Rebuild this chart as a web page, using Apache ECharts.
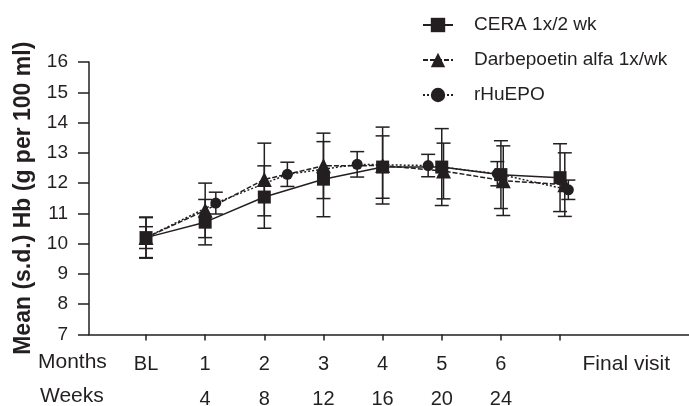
<!DOCTYPE html>
<html>
<head>
<meta charset="utf-8">
<title>Hb over time</title>
<script src="https://cdn.jsdelivr.net/npm/echarts@6/dist/echarts.min.js"></script>
<style>
  html, body { margin: 0; padding: 0; background: #fff; }
  #chart { width: 689px; height: 406px; }
</style>
</head>
<body>
<div id="chart"></div>
<script>
// 颜色
var ink = '#231f20';

// x轴刻度 (BL=0, 月1..6, 终末访视=7)
var tickValues = [0, 1, 2, 3, 4, 5, 6, 7];
var labelValues = [0, 1, 2, 3, 4, 5, 6, 8.12];
var monthLabels = ['BL', '1', '2', '3', '4', '5', '6', 'Final visit'];
var weekLabels = ['', '4', '8', '12', '16', '20', '24', ''];

// CERA 1x/2 wk
var ceraX = [0, 1, 2, 3, 4, 5, 6, 7];
var ceraMean = [10.2, 10.71, 11.54, 12.13, 12.53, 12.53, 12.28, 12.18];
var ceraSD = [0.68, 0.75, 1.03, 1.24, 1.03, 1.27, 1.12, 1.12];

// Darbepoetin alfa 1x/wk
var darbeX = [0, 1, 2, 3, 4, 5.03, 6.04, 7.08];
var darbeMean = [10.2, 11.1, 12.12, 12.57, 12.58, 12.4, 12.08, 11.95];
var darbeSD = [0.66, 0.9, 1.2, 1.08, 1.27, 0.92, 1.15, 1.05];

// rHuEPO
var epoX = [0, 1.18, 2.39, 3.57, 4.77, 5.94, 7.14];
var epoMean = [10.2, 11.34, 12.29, 12.62, 12.58, 12.31, 11.78];
var epoSD = [0.36, 0.36, 0.4, 0.42, 0.37, 0.4, 0.32];

function pairs(xs, ys) {
    var out = [];
    for (var i = 0; i < xs.length; i++) out.push([xs[i], ys[i]]);
    return out;
}

function bars(xs, ys, sd) {
    var out = [];
    for (var i = 0; i < xs.length; i++) out.push([xs[i], ys[i] - sd[i], ys[i] + sd[i]]);
    return out;
}

// 误差线
function errorBar(name, data) {
    return {
        name: name + ' sd',
        type: 'custom',
        silent: true,
        data: data,
        encode: { x: 0, y: [1, 2] },
        z: 1,
        renderItem: function(params, api) {
            var x = api.value(0);
            var top = api.coord([x, api.value(2)]);
            var bot = api.coord([x, api.value(1)]);
            var hw = 7;
            var st = { stroke: ink, lineWidth: 1.5 };
            return {
                type: 'group',
                children: [
                    { type: 'line', shape: { x1: top[0], y1: top[1], x2: bot[0], y2: bot[1] }, style: st },
                    { type: 'line', shape: { x1: top[0] - hw, y1: top[1], x2: top[0] + hw, y2: top[1] }, style: st },
                    { type: 'line', shape: { x1: bot[0] - hw, y1: bot[1], x2: bot[0] + hw, y2: bot[1] }, style: st }
                ]
            };
        }
    };
}

function lineSeries(name, data, symbol, size, dash) {
    return {
        name: name,
        type: 'line',
        data: data,
        symbol: symbol,
        symbolSize: size,
        z: 3,
        itemStyle: { color: ink },
        lineStyle: { color: ink, width: 1.5, type: dash },
        emphasis: { disabled: true }
    };
}

var myChart = echarts.init(document.getElementById('chart'));

var option = {
    animation: false,
    backgroundColor: '#fff',
    textStyle: { fontFamily: 'Liberation Sans, Arial, sans-serif', color: ink },
    grid: { left: 89, right: 0, top: 62, bottom: 71.5, containLabel: false, outerBoundsMode: 'none' },
    legend: {
        orient: 'vertical',
        left: 422,
        top: 15,
        padding: 0,
        itemWidth: 30,
        itemHeight: 18,
        itemGap: 15,
        data: ['CERA 1x/2 wk', 'Darbepoetin alfa 1x/wk', 'rHuEPO'],
        textStyle: { fontSize: 19, color: ink, lineHeight: 20, padding: [0, 0, 0, 16] }
    },
    xAxis: {
        type: 'value',
        min: -0.964,
        max: 9.18,
        splitLine: { show: false },
        axisLine: { onZero: false, lineStyle: { color: ink, width: 1.5 } },
        axisTick: { show: true, length: 6, customValues: tickValues, lineStyle: { color: ink, width: 1.5 } },
        axisLabel: {
            customValues: labelValues,
            margin: 12,
            color: ink,
            formatter: function(v) {
                var i = labelValues.indexOf(v);
                if (i < 0) return '';
                if (i === labelValues.length - 1) return '{f|' + monthLabels[i] + '}\n{w| }';
                return '{m|' + monthLabels[i] + '}\n{w|' + (weekLabels[i] || ' ') + '}';
            },
            rich: {
                m: { fontSize: 20, lineHeight: 35, color: ink },
                f: { fontSize: 21, lineHeight: 35, color: ink },
                w: { fontSize: 20, lineHeight: 35, color: ink }
            }
        }
    },
    yAxis: {
        type: 'value',
        min: 7,
        max: 16,
        interval: 1,
        name: 'Mean (s.d.) Hb (g per 100 ml)',
        nameLocation: 'middle',
        nameGap: 54,
        nameTextStyle: { fontSize: 23, fontWeight: 'bold', color: ink },
        splitLine: { show: false },
        axisLine: { show: true, onZero: false, lineStyle: { color: ink, width: 1.5 } },
        axisTick: { show: true, length: 11, lineStyle: { color: ink, width: 1.5 } },
        axisLabel: { fontSize: 19, color: ink, margin: 21 }
    },
    graphic: [
        { type: 'text', left: 38, top: 352, style: { text: 'Months', fontSize: 21, fill: ink, fontFamily: 'Liberation Sans, Arial, sans-serif' } },
        { type: 'text', left: 40, top: 386, style: { text: 'Weeks', fontSize: 21, fill: ink, fontFamily: 'Liberation Sans, Arial, sans-serif' } }
    ],
    series: [
        errorBar('CERA 1x/2 wk', bars(ceraX, ceraMean, ceraSD)),
        errorBar('Darbepoetin alfa 1x/wk', bars(darbeX, darbeMean, darbeSD)),
        errorBar('rHuEPO', bars(epoX, epoMean, epoSD)),
        lineSeries('CERA 1x/2 wk', pairs(ceraX, ceraMean), 'rect', 13, 'solid'),
        lineSeries('Darbepoetin alfa 1x/wk', pairs(darbeX, darbeMean), 'triangle', 15, [5, 2]),
        lineSeries('rHuEPO', pairs(epoX, epoMean), 'circle', 11, [2, 2])
    ]
};

myChart.setOption(option);
</script>
</body>
</html>
